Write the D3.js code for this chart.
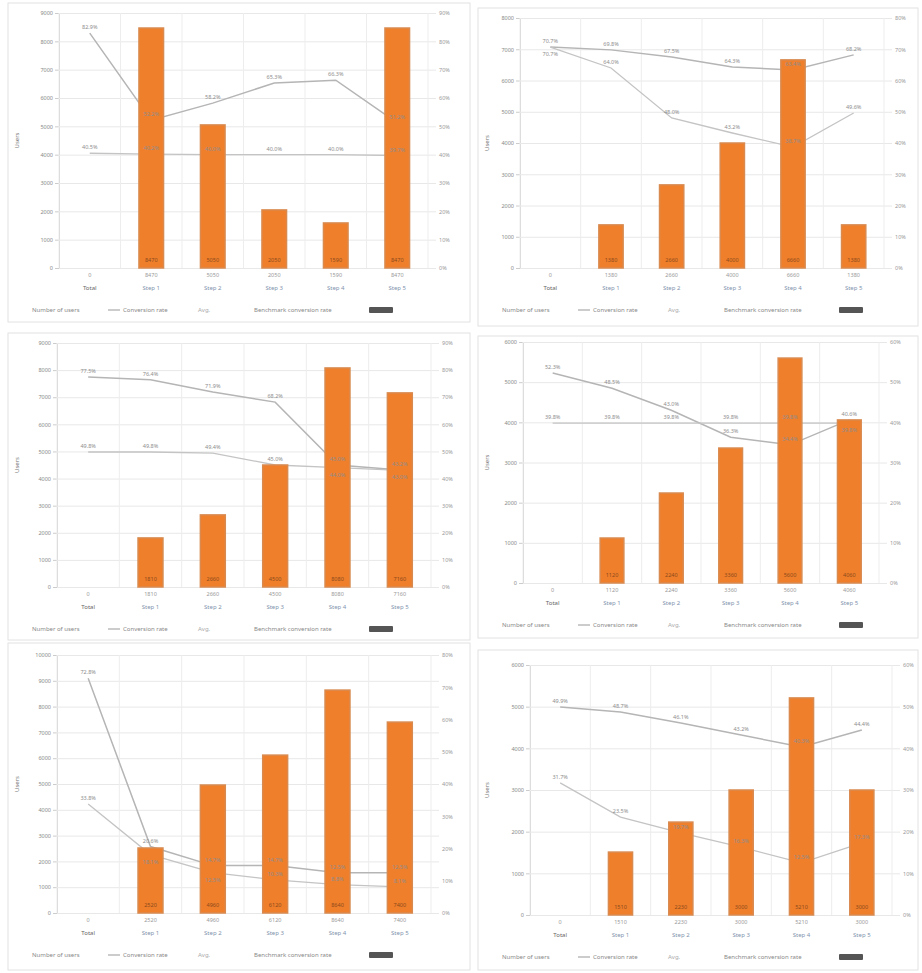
<!DOCTYPE html>
<html>
<head>
<meta charset="utf-8">
<script src="https://cdn.jsdelivr.net/npm/d3@7/dist/d3.min.js"></script>
<style>
  body { margin: 0; background: #fff; font-family: "Noto Sans", sans-serif; }
  svg text { font-family: "Noto Sans", sans-serif; }
</style>
</head>
<body>
<div id="chart"></div>
<script>
// categories shared by the six panels
const categories = ["Total", "Step 1", "Step 2", "Step 3", "Step 4", "Step 5"];

// bar values (left axis) per panel
const bars1 = [0, 8470, 5050, 2050, 1590, 8470];
const bars2 = [0, 1380, 2660, 4000, 6660, 1380];
const bars3 = [0, 1810, 2660, 4500, 8080, 7160];
const bars4 = [0, 1120, 2240, 3360, 5600, 4060];
const bars5 = [0, 2520, 4960, 6120, 8640, 7400];
const bars6 = [0, 1510, 2230, 3000, 5210, 3000];

// rate lines (right axis, %)
const rate1 = [82.9, 52.2, 58.2, 65.3, 66.3, 51.2];
const rate2 = [70.7, 69.8, 67.5, 64.3, 63.4, 68.2];
const rate3 = [77.5, 76.4, 71.9, 68.2, 45.0, 43.2];
const rate4 = [52.3, 48.5, 43.0, 36.3, 34.4, 40.6];
const rate5 = [72.8, 20.6, 14.7, 14.7, 12.5, 12.5];
const rate6 = [49.9, 48.7, 46.1, 43.2, 40.3, 44.4];

const avg1 = [40.5, 40.2, 40.0, 40.0, 40.0, 39.7];
const avg2 = [70.7, 64.0, 48.0, 43.2, 38.7, 49.6];
const avg3 = [49.8, 49.8, 49.4, 45.0, 44.0, 43.0];
const avg4 = [39.8, 39.8, 39.8, 39.8, 39.8, 39.8];
const avg5 = [33.8, 18.1, 12.5, 10.3, 8.8, 8.1];
const avg6 = [31.7, 23.5, 19.7, 16.3, 12.5, 17.3];

// axis tick setup
const leftMax    = [9000, 8000, 9000, 6000, 10000, 6000];
const leftTicks  = [9, 8, 9, 6, 10, 6];
const rightMax   = [90, 80, 90, 60, 80, 60];
const rightTicks = [9, 8, 9, 6, 8, 6];

const legendLabels = ["Number of users", "Conversion rate", "Avg.", "Benchmark conversion rate"];
const yTitle = "Users";

// panel layout (boxes and plot areas)
const layout = [
  {box: [8, 3, 462, 319],   x0: 59,  x1: 428, y0: 13,  y1: 268},
  {box: [478, 8, 440, 318], x0: 520, x1: 884, y0: 18,  y1: 268},
  {box: [8, 333, 462, 307], x0: 57,  x1: 431, y0: 343, y1: 587},
  {box: [478, 336, 440, 302], x0: 523, x1: 879, y0: 342, y1: 583},
  {box: [8, 643, 462, 327], x0: 57,  x1: 431, y0: 655, y1: 913},
  {box: [478, 650, 440, 320], x0: 530, x1: 892, y0: 665, y1: 915}
];

const allBars  = [bars1, bars2, bars3, bars4, bars5, bars6];
const allRates = [rate1, rate2, rate3, rate4, rate5, rate6];
const allAvgs  = [avg1, avg2, avg3, avg4, avg5, avg6];

const svg = d3.select("#chart").append("svg")
    .attr("width", 922)
    .attr("height", 973);

layout.forEach(function(L, p) {
  const g = svg.append("g");
  const bars = allBars[p], rate = allRates[p], avg = allAvgs[p];

  // panel frame
  g.append("rect")
    .attr("x", L.box[0]).attr("y", L.box[1])
    .attr("width", L.box[2]).attr("height", L.box[3])
    .attr("fill", "#fff")
    .attr("stroke", "#e2e2e2");

  const x = d3.scaleBand().domain(categories).range([L.x0, L.x1]);
  const y = d3.scaleLinear().domain([0, leftMax[p]]).range([L.y1, L.y0]);
  const yr = d3.scaleLinear().domain([0, rightMax[p]]).range([L.y1, L.y0]);
  const right = L.x1 + 8;

  // horizontal grid + left axis
  g.append("g")
    .attr("transform", "translate(" + L.x0 + ",0)")
    .call(d3.axisLeft(y).ticks(leftTicks[p]).tickSize(4).tickFormat(d3.format("d")))
    .call(g => g.select(".domain").attr("stroke", "#ccc"))
    .call(g => g.selectAll(".tick line").attr("stroke", "#ccc"))
    .call(g => g.selectAll(".tick text").attr("fill", "#888").attr("font-size", "5.5px").attr("x", -6))
    .call(g => g.selectAll(".tick line").clone()
      .attr("stroke", "#e8e8e8")
      .attr("x1", 0).attr("x2", right - L.x0));

  // right axis
  g.append("g")
    .attr("transform", "translate(" + right + ",0)")
    .call(d3.axisRight(yr).ticks(rightTicks[p]).tickSize(0).tickFormat(d => d + "%"))
    .call(g => g.select(".domain").remove())
    .call(g => g.selectAll(".tick text").attr("fill", "#999").attr("font-size", "5.5px").attr("x", 3));

  // vertical grid at band edges
  const edges = categories.map(c => x(c)).concat([L.x1]);
  g.selectAll(".vgrid")
    .data(edges)
    .join("line")
      .attr("x1", d => d).attr("x2", d => d)
      .attr("y1", L.y0).attr("y2", L.y1)
      .attr("stroke", "#ededed");

  // y title
  g.append("text")
    .attr("transform", "translate(" + (L.box[0] + 11) + "," + ((L.y0 + L.y1) / 2) + ") rotate(-90)")
    .attr("text-anchor", "middle")
    .attr("font-size", "6px")
    .attr("fill", "#777")
    .text(yTitle);

  const cx = d => x(d) + x.bandwidth() / 2;

  // lines
  const lineR = d3.line().x((d, i) => cx(categories[i])).y(d => yr(d));
  g.append("path")
    .datum(rate)
    .attr("fill", "none")
    .attr("stroke", "#b5b5b5")
    .attr("stroke-width", 1.5)
    .attr("d", lineR);
  g.append("path")
    .datum(avg)
    .attr("fill", "none")
    .attr("stroke", "#c4c4c4")
    .attr("stroke-width", 1.3)
    .attr("d", lineR);

  // bars
  const bw = x.bandwidth() * 0.4;
  g.selectAll(".bar")
    .data(bars)
    .join("rect")
      .attr("x", (d, i) => cx(categories[i]) - bw / 2)
      .attr("y", d => y(d))
      .attr("width", bw)
      .attr("height", d => L.y1 - y(d))
      .attr("fill", "#f07f2c")
      .attr("stroke", "#d98a4f")
      .attr("stroke-width", 1.5);

  // value inside bar bottom
  g.selectAll(".inlab")
    .data(bars)
    .join("text")
      .attr("x", (d, i) => cx(categories[i]))
      .attr("y", L.y1 - 6)
      .attr("text-anchor", "middle")
      .attr("font-size", "5.5px")
      .attr("fill", "#8a4a1a")
      .text(d => d > 0 ? d : "");

  // point labels for lines (avg label drops below when too close)
  g.selectAll(null)
    .data(rate)
    .join("text")
      .attr("x", (d, i) => cx(categories[i]))
      .attr("y", d => yr(d) - 4)
      .attr("text-anchor", "middle")
      .attr("font-size", "5.5px")
      .attr("fill", "#8d8d8d")
      .text(d => d.toFixed(1) + "%");
  g.selectAll(null)
    .data(avg)
    .join("text")
      .attr("x", (d, i) => cx(categories[i]))
      .attr("y", (d, i) => Math.abs(yr(d) - yr(rate[i])) < 10 ? yr(d) + 9 : yr(d) - 4)
      .attr("text-anchor", "middle")
      .attr("font-size", "5.5px")
      .attr("fill", "#8d8d8d")
      .text(d => d.toFixed(1) + "%");

  // value row + category row under axis
  g.selectAll(".vrow")
    .data(bars)
    .join("text")
      .attr("x", (d, i) => cx(categories[i]))
      .attr("y", L.y1 + 9)
      .attr("text-anchor", "middle")
      .attr("font-size", "5.5px")
      .attr("fill", "#999")
      .text(d => d);
  g.selectAll(".crow")
    .data(categories)
    .join("text")
      .attr("x", d => cx(d))
      .attr("y", L.y1 + 22)
      .attr("text-anchor", "middle")
      .attr("font-size", "6px")
      .attr("fill", (d, i) => i === 0 ? "#666" : "#7f93ad")
      .text(d => d);

  // legend
  const ly = L.y1 + 42, lx = L.box[0] + 24;
  g.append("text").attr("x", lx).attr("y", ly + 2).attr("font-size", "6px").attr("fill", "#888").text(legendLabels[0]);
  g.append("line").attr("x1", lx + 76).attr("x2", lx + 88).attr("y1", ly).attr("y2", ly)
    .attr("stroke", "#bbb").attr("stroke-width", 1.5);
  g.append("text").attr("x", lx + 91).attr("y", ly + 2).attr("font-size", "6px").attr("fill", "#888").text(legendLabels[1]);
  g.append("text").attr("x", lx + 166).attr("y", ly + 2).attr("font-size", "6px").attr("fill", "#aaa").text(legendLabels[2]);
  g.append("text").attr("x", lx + 222).attr("y", ly + 2).attr("font-size", "6px").attr("fill", "#888").text(legendLabels[3]);
  g.append("rect").attr("x", lx + 337).attr("y", ly - 3).attr("width", 24).attr("height", 6)
    .attr("fill", "#555").attr("rx", 1);
});
</script>
</body>
</html>
